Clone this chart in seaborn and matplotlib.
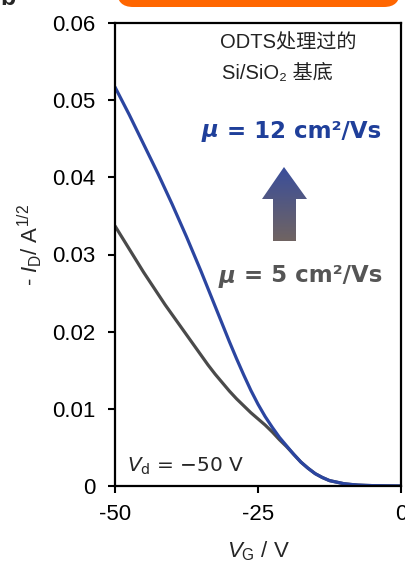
import numpy as np
import pandas as pd
import matplotlib
matplotlib.use("Agg")
import matplotlib.pyplot as plt
import matplotlib.patches as mpatches
from matplotlib.transforms import IdentityTransform
import seaborn as sns

# ---- data ----
vg = [-50, -48.75, -47.5, -46.25, -45, -43.75, -42.5, -41.25, -40, -38.75,
      -37.5, -36.25, -35, -33.75, -32.5, -31.25, -30, -28.75, -27.5, -26.25,
      -25, -23.75, -22.5, -21.25, -20, -18.75, -17.5, -16.25, -15, -13.75,
      -12.5, -11.25, -10, -8.75, -7.5, -6.25, -5, -2.5, 0]
sqrt_id_high = [0.0517, 0.0499, 0.0481, 0.0462, 0.0443, 0.0424, 0.0405, 0.0385,
                0.0365, 0.0344, 0.0323, 0.0301, 0.0279, 0.0256, 0.0233, 0.0210,
                0.0187, 0.0165, 0.0144, 0.0124, 0.0106, 0.0090, 0.0076, 0.0063,
                0.0052, 0.0041, 0.0031, 0.0023, 0.0016, 0.0011, 0.0007, 0.0005,
                0.0003, 0.0002, 0.00012, 0.00008, 0.00005, 0.00002, 0.0]
sqrt_id_low = [0.0337, 0.0322, 0.0307, 0.0292, 0.0277, 0.0263, 0.0249, 0.0235,
               0.0222, 0.0209, 0.0196, 0.0183, 0.0170, 0.0157, 0.0145, 0.0134,
               0.0123, 0.0113, 0.0104, 0.0095, 0.0087, 0.0079, 0.0070, 0.0060,
               0.0051, 0.0041, 0.0031, 0.0023, 0.0016, 0.0011, 0.0007, 0.0005,
               0.0003, 0.0002, 0.00012, 0.00008, 0.00005, 0.00002, 0.0]
xticks = [-50, -25, 0]
yticks = [0, 0.01, 0.02, 0.03, 0.04, 0.05, 0.06]
ytick_labels = ["0", "0.01", "0.02", "0.03", "0.04", "0.05", "0.06"]

sns.set_style("ticks")
plt.rcParams["font.family"] = ["Liberation Sans", "Noto Sans CJK SC", "DejaVu Sans"]
plt.rcParams["mathtext.fontset"] = "custom"
plt.rcParams["mathtext.rm"] = "Liberation Sans"
plt.rcParams["mathtext.it"] = "Liberation Sans:italic"
plt.rcParams["mathtext.bf"] = "Liberation Sans:bold"

W, H = 406, 561
fig = plt.figure(figsize=(W / 100, H / 100), dpi=100)
ax = fig.add_axes([115 / W, 1 - 486 / H, (401 - 115) / W, (486 - 23) / H])

df = pd.DataFrame({
    "VG": vg * 2,
    "I": sqrt_id_low + sqrt_id_high,
    "s": ["low"] * len(vg) + ["high"] * len(vg),
})
sns.lineplot(data=df, x="VG", y="I", hue="s", hue_order=["low", "high"],
             palette={"low": "#4a4a4a", "high": "#2b45a0"}, linewidth=2.3,
             legend=False, ax=ax, sort=True)
for ln in ax.lines:
    ln.set_solid_joinstyle("round")
    ln.set_solid_capstyle("round")

ax.set_xlim(-50, 0)
ax.set_ylim(0, 0.06)
ax.set_xticks(xticks)
ax.set_xticklabels([str(t) for t in xticks])
ax.set_yticks(yticks)
ax.set_yticklabels(ytick_labels)
for s in ax.spines.values():
    s.set_visible(True)
    s.set_linewidth(1.6)
    s.set_color("black")
ax.tick_params(axis="both", direction="out", length=5, width=1.5,
               labelsize=16, colors="black")
ax.tick_params(axis="y", pad=9)
ax.tick_params(axis="x", pad=8)

ax.set_xlabel(r"$V_{\rm G}$ / V", fontsize=16, labelpad=10)
ax.set_ylabel(r"- $I_{\rm D}$/ A$^{1/2}$", fontsize=16)
ax.yaxis.set_label_coords(-0.248, 0.52)

def ax_frac(px, py):
    return ((px - 115) / 286, (486 - py) / 463)

# annotations
x0, y0 = ax_frac(220, 43)
ax.text(x0, y0, "ODTS处理过的", transform=ax.transAxes, ha="left", va="center",
        fontsize=14.5, color="#222222")
x0, y0 = ax_frac(222, 73)
ax.text(x0, y0, "Si/SiO₂ 基底", transform=ax.transAxes, ha="left", va="center",
        fontsize=14.5, color="#222222")

blue_t = "#1f3f9a"
gray_t = "#555555"
for (px, py, txt, col) in [(381, 131, " = 12 cm²/Vs", blue_t), (382, 276, " = 5 cm²/Vs", gray_t)]:
    xx, yy = ax_frac(px, py)
    t = ax.text(xx, yy, txt, transform=ax.transAxes, ha="right", va="center",
                fontsize=16.5, fontweight="bold", color=col, family="DejaVu Sans")
    ax.annotate("μ", xy=(0, 0), xycoords=t, ha="right", va="bottom",
                fontsize=16.5, fontweight="bold", fontstyle="italic", color=col,
                family="DejaVu Sans")

xx, yy = ax_frac(127, 466)
ax.text(xx, yy, r"$V_{\rm d}$ = −50 V", transform=ax.transAxes, ha="left",
        va="center", fontsize=14.5, family="DejaVu Sans",
        math_fontfamily="dejavusans")

# gradient arrow
pts = [(284, 167), (307, 199), (296, 199), (296, 241), (273, 241), (273, 199), (262, 199)]
poly = [ax_frac(px, py) for px, py in pts]
arrow = mpatches.Polygon(poly, closed=True, transform=ax.transAxes,
                         facecolor="none", edgecolor="none")
ax.add_patch(arrow)
top = np.array([58, 78, 155]) / 255
bot = np.array([112, 100, 98]) / 255
tt = np.linspace(0, 1, 100)[:, None]
grad = (top[None, :] * (1 - tt) + bot[None, :] * tt)[:, None, :]
ex0, ey1 = ax_frac(262, 167)
ex1, ey0 = ax_frac(307, 241)
im = ax.imshow(grad, extent=(ex0, ex1, ey0, ey1), transform=ax.transAxes,
               aspect="auto", zorder=3, interpolation="bilinear")
im.set_clip_path(arrow)
ax.set_xlim(-50, 0)
ax.set_ylim(0, 0.06)

# cropped header elements
box = mpatches.FancyBboxPatch((117, H - 7), 283, 40,
                              boxstyle="round,pad=0,rounding_size=16",
                              transform=IdentityTransform(),
                              facecolor="#ff6600", edgecolor="none")
fig.add_artist(box)
fig.text(0, 1 - 5 / H, "b", ha="left", va="baseline", fontsize=18,
         fontweight="bold")

fig.savefig("out.png", dpi=100)
